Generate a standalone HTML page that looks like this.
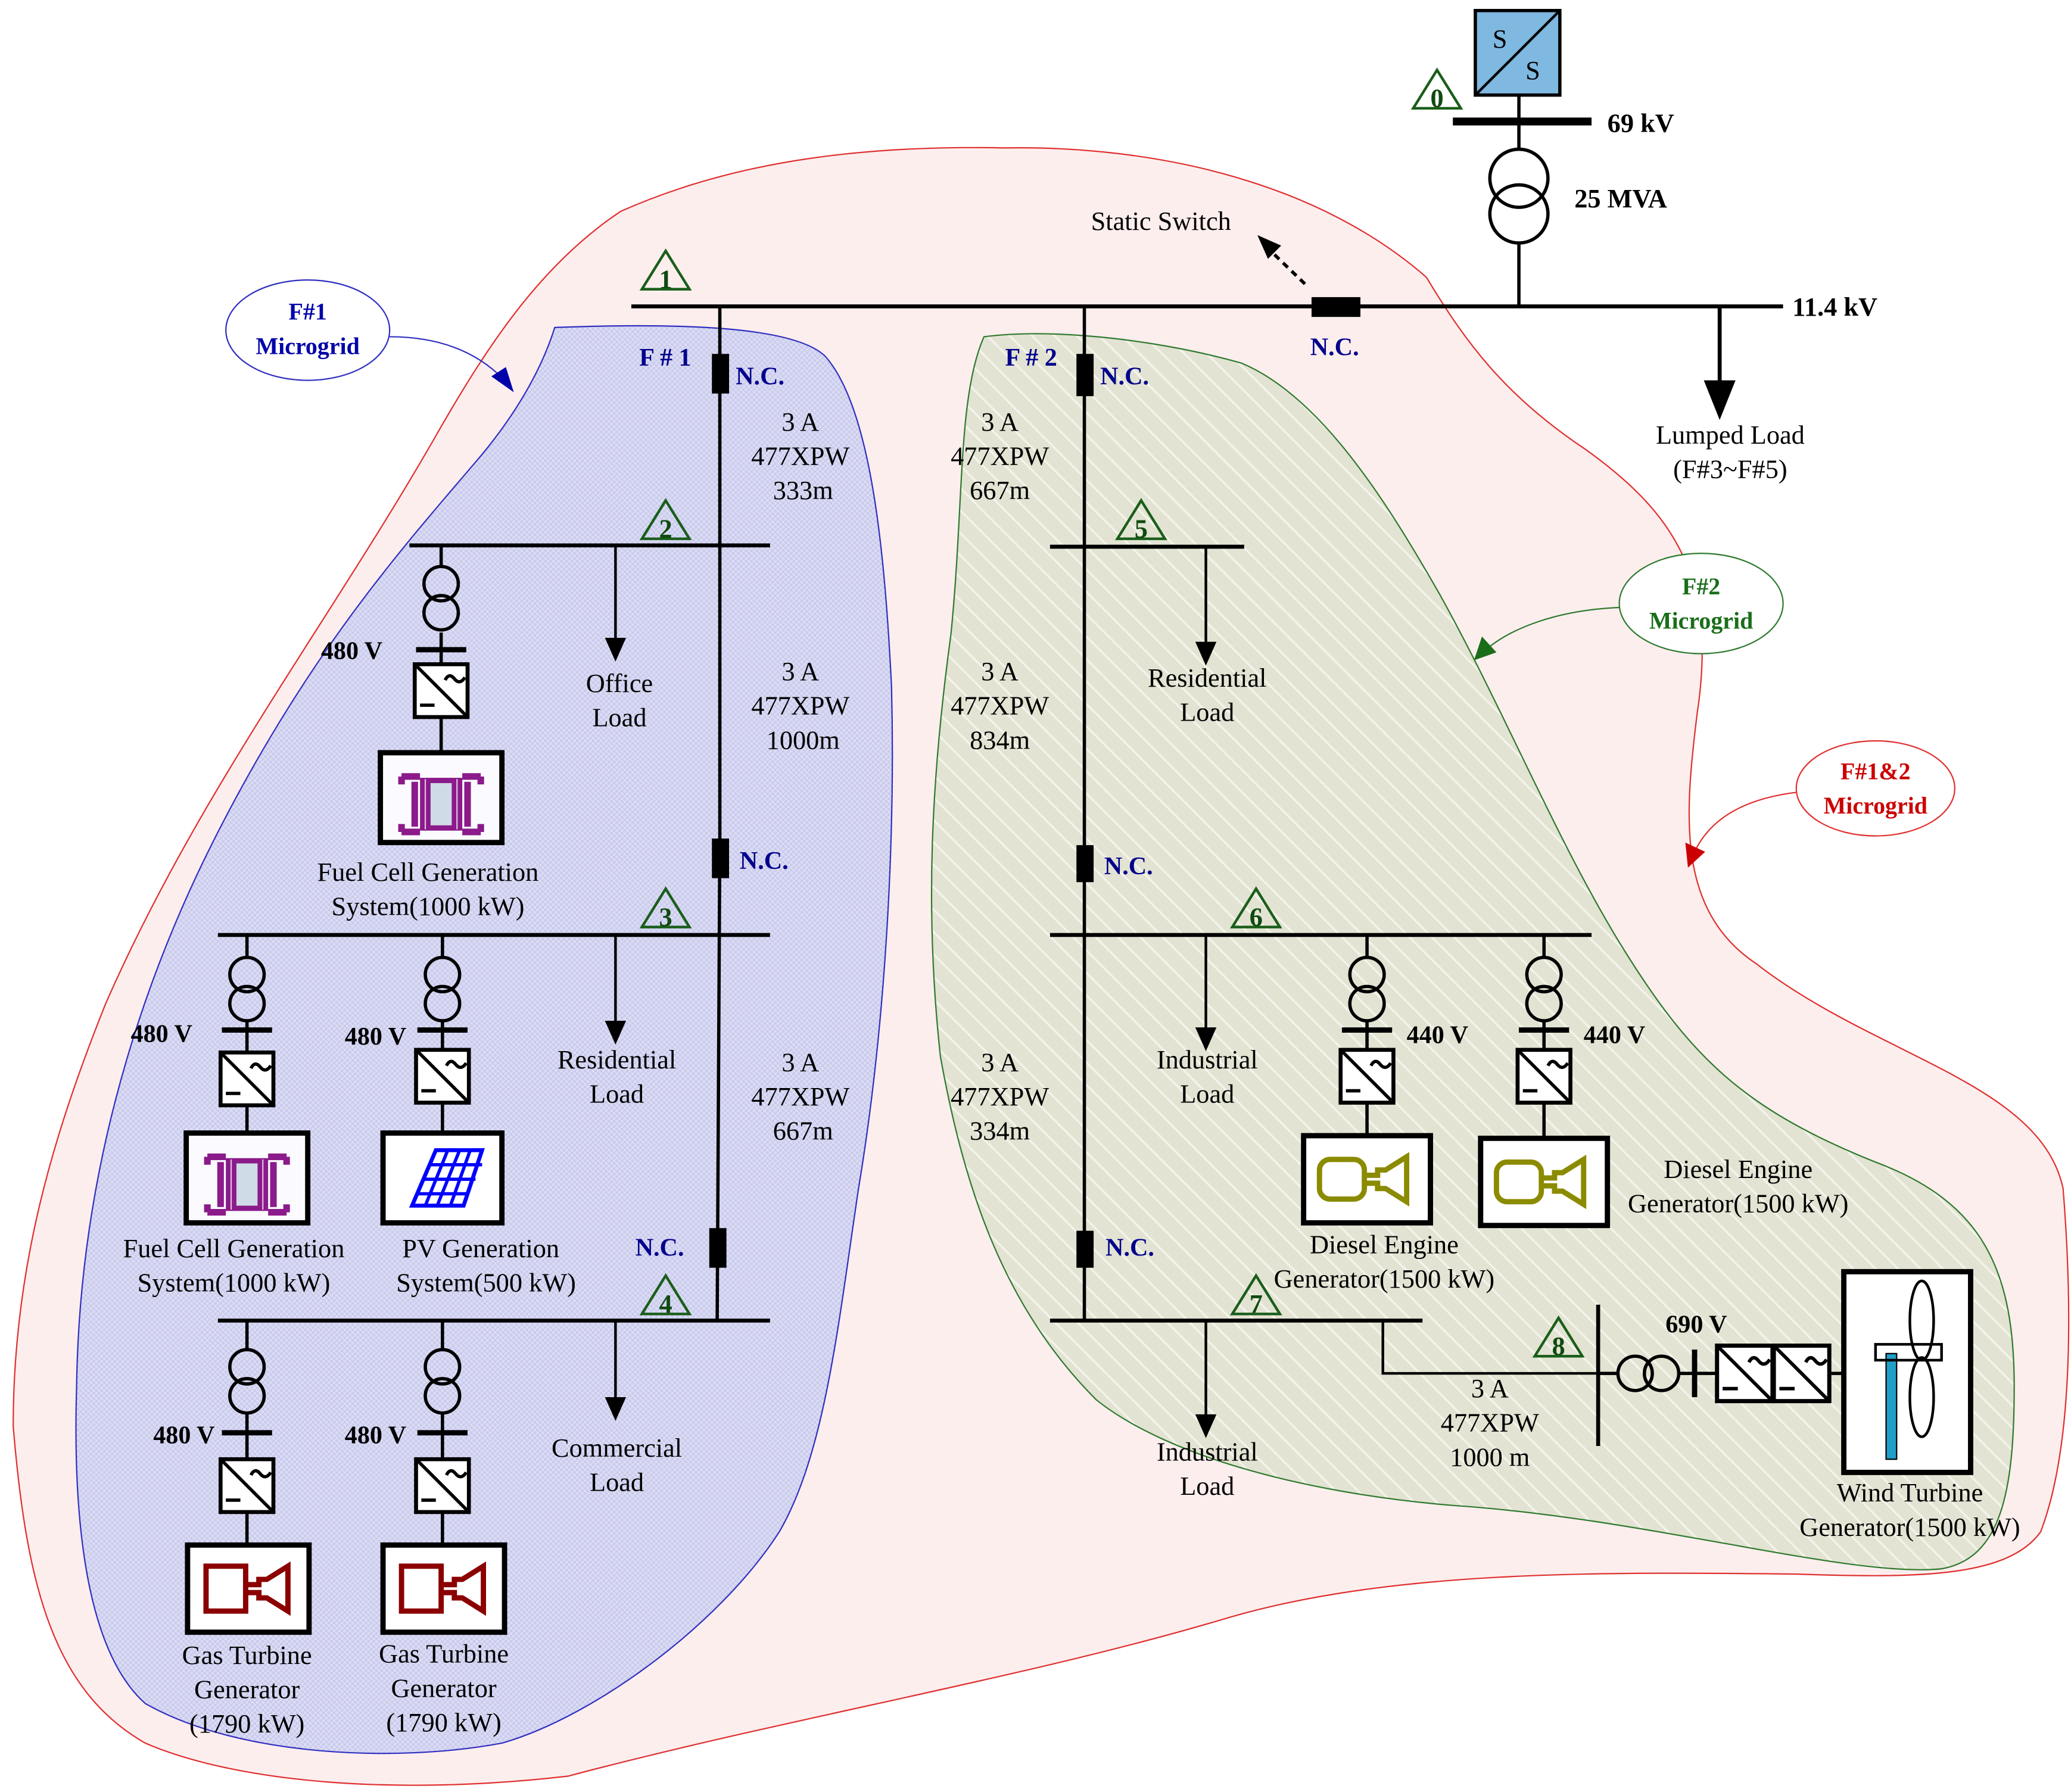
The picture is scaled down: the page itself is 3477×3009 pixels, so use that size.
<!DOCTYPE html>
<html><head><meta charset="utf-8"><style>
html,body{margin:0;padding:0;background:#fff;}
svg{display:block;}
text{font-family:"Liberation Serif",serif;}
</style></head><body>
<svg width="3477" height="3009" viewBox="0 0 1568 1357" preserveAspectRatio="none" xmlns="http://www.w3.org/2000/svg">
<defs>
<pattern id="bh" width="4" height="4" patternUnits="userSpaceOnUse"><rect width="4" height="4" fill="#dcdcf2"/><rect width="2" height="2" fill="#c9cbee"/><rect x="2" y="2" width="2" height="2" fill="#c9cbee"/></pattern>
<pattern id="gh" width="12" height="12" patternUnits="userSpaceOnUse" patternTransform="rotate(-45)"><rect width="12" height="12" fill="#e2e3d2"/><line x1="0" y1="0" x2="0" y2="12" stroke="#f4f4ec" stroke-width="3"/></pattern>
<g id="conv"><rect x="-20" y="0" width="40" height="40" fill="#fff" stroke="#000" stroke-width="3"/><line x1="-20" y1="0" x2="20" y2="40" stroke="#000" stroke-width="2.5"/><path d="M3 12 q3 -6 7 -1 q4 5 8 -1" fill="none" stroke="#000" stroke-width="2.5"/><line x1="-16" y1="31" x2="-5" y2="31" stroke="#000" stroke-width="2.5"/></g>
<g id="xf"><circle cx="0" cy="0" r="13" fill="none" stroke="#000" stroke-width="2.5"/><circle cx="0" cy="22" r="13" fill="none" stroke="#000" stroke-width="2.5"/></g>
<g id="gt"><rect x="-46" y="0" width="92" height="66" fill="#fff" stroke="#000" stroke-width="4"/><rect x="-32" y="16" width="30" height="34" fill="none" stroke="#8b0000" stroke-width="4"/><path d="M-2 30 h10 v-4 h6 l16 -10 v34 l-16 -10 h-6 v-4 h-10" fill="none" stroke="#8b0000" stroke-width="4"/></g>
<g id="de"><rect x="-48" y="0" width="96" height="66" fill="#fff" stroke="#000" stroke-width="4"/><rect x="-36" y="18" width="34" height="30" rx="8" fill="none" stroke="#8b8b00" stroke-width="4"/><path d="M-2 30 h10 v-4 h6 l16 -10 v34 l-16 -10 h-6 v-4 h-10" fill="none" stroke="#8b8b00" stroke-width="4"/></g>
<g id="fc"><rect x="-46" y="0" width="92" height="68" fill="#fbfbff" stroke="#000" stroke-width="4"/>
<rect x="-16" y="19" width="32" height="40" fill="#8b1a8b"/><rect x="-8" y="23" width="16" height="32" fill="#cfdbe6"/>
<path d="M-30 18 h14 M-30 60 h14 M30 18 h-14 M30 60 h-14 M-30 18 v6 M-30 60 v-6 M30 18 v6 M30 60 v-6 M-20 22 v34 M20 22 v34" fill="none" stroke="#8b1a8b" stroke-width="5"/>
<path d="M-12 20 v38 M12 20 v38" stroke="#e0c0e0" stroke-width="1"/></g>
<g id="arr"><polygon points="-8,0 8,0 0,18" fill="#000"/></g>
<g id="tri"><polygon points="0,-17 18,12 -18,12" fill="none" stroke="#1a5e1a" stroke-width="2"/></g>
</defs>

<path d="M470 160 C560 120 660 110 760 112 C880 110 1000 140 1080 210 C1110 260 1140 300 1200 340 C1270 390 1300 440 1285 540 C1275 620 1270 690 1330 730 C1420 800 1545 820 1562 900 C1570 1000 1568 1100 1545 1160 C1520 1195 1450 1195 1360 1192 C1200 1190 1050 1190 930 1225 C780 1270 600 1300 430 1345 C300 1360 180 1350 110 1320 C40 1280 20 1200 10 1080 C10 960 40 860 80 760 C150 600 250 470 330 330 C370 260 410 200 470 160 Z" fill="#fdeeee" stroke="#e03030" stroke-width="1"/>
<path d="M420 248 C500 245 600 245 625 270 C660 310 670 420 675 520 C678 640 670 780 650 900 C635 1000 625 1100 590 1160 C545 1230 450 1300 380 1320 C300 1335 180 1330 110 1290 C65 1250 55 1150 58 1050 C60 900 100 760 160 640 C230 500 300 420 360 350 C390 315 410 280 420 248 Z" fill="url(#bh)" stroke="#3030c0" stroke-width="1"/>
<path d="M745 255 C800 248 880 258 940 275 C1000 300 1050 380 1090 450 C1140 540 1180 640 1230 720 C1280 800 1320 840 1420 880 C1500 910 1525 960 1525 1050 C1525 1130 1515 1180 1470 1188 C1400 1195 1250 1150 1100 1140 C980 1130 880 1100 830 1060 C760 990 730 900 712 800 C700 690 705 590 720 480 C730 380 725 300 745 255 Z" fill="url(#gh)" stroke="#2f7a2f" stroke-width="1"/>

<ellipse cx="233" cy="250" rx="62" ry="38" fill="#fff" stroke="#3030c0" stroke-width="1"/>
<text x="233" y="242" font-size="18" font-weight="bold" fill="#0000aa" text-anchor="middle">F#1</text>
<text x="233" y="268" font-size="18" font-weight="bold" fill="#0000aa" text-anchor="middle">Microgrid</text>
<path d="M295 255 C330 255 360 265 382 288" fill="none" stroke="#3030c0" stroke-width="1"/>
<polygon points="372,285 389,297 383,278" fill="#0000aa"/>
<ellipse cx="1288" cy="457" rx="62" ry="38" fill="#fff" stroke="#2f7a2f" stroke-width="1"/>
<text x="1288" y="450" font-size="18" font-weight="bold" fill="#1a6e1a" text-anchor="middle">F#2</text>
<text x="1288" y="476" font-size="18" font-weight="bold" fill="#1a6e1a" text-anchor="middle">Microgrid</text>
<path d="M1226 460 C1180 462 1145 475 1125 492" fill="none" stroke="#2f7a2f" stroke-width="1"/>
<polygon points="1116,500 1122,482 1133,494" fill="#1a6e1a"/>
<ellipse cx="1420" cy="597" rx="60" ry="36" fill="#fff" stroke="#e03030" stroke-width="1"/>
<text x="1420" y="590" font-size="18" font-weight="bold" fill="#cc0000" text-anchor="middle">F#1&amp;2</text>
<text x="1420" y="616" font-size="18" font-weight="bold" fill="#cc0000" text-anchor="middle">Microgrid</text>
<path d="M1360 600 C1320 605 1295 620 1283 645" fill="none" stroke="#e03030" stroke-width="1"/>
<polygon points="1278,657 1276,638 1291,645" fill="#cc0000"/>

<g stroke="#000" fill="none">
<rect x="1117" y="8" width="64" height="64" fill="#7fb8e0" stroke-width="2.5"/>
<line x1="1117" y1="72" x2="1181" y2="8" stroke-width="2"/>
<line x1="1100" y1="92" x2="1205" y2="92" stroke-width="6"/>
<line x1="1150" y1="72" x2="1150" y2="113" stroke-width="2.5"/>
<circle cx="1150" cy="135" r="22" stroke-width="2.5"/><circle cx="1150" cy="162" r="22" stroke-width="2.5"/>
<line x1="1150" y1="184" x2="1150" y2="232" stroke-width="2.5"/>
<line x1="478" y1="232" x2="1350" y2="232" stroke-width="3"/>
<line x1="1302" y1="232" x2="1302" y2="290" stroke-width="3"/>
<line x1="545" y1="232" x2="545" y2="635" stroke-width="2.5"/>
<line x1="545" y1="635" x2="543" y2="1000" stroke-width="2.5"/>
<line x1="821" y1="232" x2="821" y2="1000" stroke-width="2.5"/>
<line x1="310" y1="413" x2="583" y2="413" stroke-width="3"/>
<line x1="165" y1="708" x2="583" y2="708" stroke-width="3"/>
<line x1="165" y1="1000" x2="583" y2="1000" stroke-width="3"/>
<line x1="795" y1="414" x2="942" y2="414" stroke-width="3"/>
<line x1="795" y1="708" x2="1205" y2="708" stroke-width="3"/>
<line x1="795" y1="1000" x2="1077" y2="1000" stroke-width="3"/>
<line x1="1210" y1="988" x2="1210" y2="1095" stroke-width="3"/>
<polyline points="1047,1000 1047,1040 1210,1040" stroke-width="2"/>
<line x1="466" y1="413" x2="466" y2="485" stroke-width="2"/>
<line x1="466" y1="708" x2="466" y2="775" stroke-width="2"/>
<line x1="466" y1="1000" x2="466" y2="1060" stroke-width="2"/>
<line x1="913" y1="414" x2="913" y2="488" stroke-width="2"/>
<line x1="913" y1="708" x2="913" y2="780" stroke-width="2"/>
<line x1="913" y1="1000" x2="913" y2="1073" stroke-width="2"/>
<line x1="334" y1="413" x2="334" y2="429" stroke-width="2.5"/><line x1="334" y1="479" x2="334" y2="570" stroke-width="2.5"/><line x1="315" y1="492" x2="353" y2="492" stroke-width="4"/>
<line x1="187" y1="708" x2="187" y2="725" stroke-width="2.5"/><line x1="187" y1="773" x2="187" y2="858" stroke-width="2.5"/><line x1="168" y1="780" x2="206" y2="780" stroke-width="4"/>
<line x1="335" y1="708" x2="335" y2="725" stroke-width="2.5"/><line x1="335" y1="773" x2="335" y2="858" stroke-width="2.5"/><line x1="316" y1="780" x2="354" y2="780" stroke-width="4"/>
<line x1="187" y1="1000" x2="187" y2="1022" stroke-width="2.5"/><line x1="187" y1="1070" x2="187" y2="1170" stroke-width="2.5"/><line x1="168" y1="1085" x2="206" y2="1085" stroke-width="4"/>
<line x1="335" y1="1000" x2="335" y2="1022" stroke-width="2.5"/><line x1="335" y1="1070" x2="335" y2="1170" stroke-width="2.5"/><line x1="316" y1="1085" x2="354" y2="1085" stroke-width="4"/>
<line x1="1035" y1="708" x2="1035" y2="725" stroke-width="2.5"/><line x1="1035" y1="773" x2="1035" y2="860" stroke-width="2.5"/><line x1="1016" y1="780" x2="1054" y2="780" stroke-width="4"/>
<line x1="1169" y1="708" x2="1169" y2="725" stroke-width="2.5"/><line x1="1169" y1="773" x2="1169" y2="862" stroke-width="2.5"/><line x1="1150" y1="780" x2="1188" y2="780" stroke-width="4"/>
<line x1="1210" y1="1040" x2="1225" y2="1040" stroke-width="2.5"/>
<circle cx="1238" cy="1040" r="13" stroke-width="2.5"/><circle cx="1258" cy="1040" r="13" stroke-width="2.5"/>
<line x1="1271" y1="1040" x2="1300" y2="1040" stroke-width="2.5"/>
<line x1="1283" y1="1022" x2="1283" y2="1058" stroke-width="4"/>
<line x1="1385" y1="1040" x2="1396" y2="1040" stroke-width="2.5"/>
</g>
<line x1="988" y1="215" x2="962" y2="190" stroke="#000" stroke-width="2.5" stroke-dasharray="5,4"/>
<polygon points="952,178 970,186 960,196" fill="#000"/>
<g fill="#000">
<rect x="539" y="268" width="13" height="30"/><rect x="539" y="635" width="13" height="30"/><rect x="537" y="930" width="13" height="30"/>
<rect x="815" y="268" width="13" height="32"/><rect x="815" y="640" width="13" height="28"/><rect x="815" y="932" width="13" height="28"/>
<rect x="993" y="225" width="37" height="15"/>
<polygon points="1290,288 1314,288 1302,318"/>
</g>
<use href="#arr" x="466" y="483"/><use href="#arr" x="466" y="773"/><use href="#arr" x="466" y="1058"/>
<use href="#arr" x="913" y="486"/><use href="#arr" x="913" y="778"/><use href="#arr" x="913" y="1071"/>
<use href="#xf" x="334" y="442"/><use href="#xf" x="187" y="738"/><use href="#xf" x="335" y="738"/>
<use href="#xf" x="187" y="1035"/><use href="#xf" x="335" y="1035"/><use href="#xf" x="1035" y="738"/><use href="#xf" x="1169" y="738"/>
<use href="#conv" x="334" y="503"/><use href="#conv" x="187" y="797"/><use href="#conv" x="335" y="795"/>
<use href="#conv" x="187" y="1105"/><use href="#conv" x="335" y="1105"/><use href="#conv" x="1035" y="795"/><use href="#conv" x="1169" y="795"/>
<g transform="translate(1321,1019) scale(1.05)"><use href="#conv" x="0" y="0"/></g>
<g transform="translate(1364,1019) scale(1.05)"><use href="#conv" x="0" y="0"/></g>
<use href="#fc" x="334" y="570"/><use href="#fc" x="187" y="858"/>
<g><rect x="290" y="858" width="90" height="68" fill="#fff" stroke="#000" stroke-width="4"/>
<polygon points="312,913 330,871 365,871 351,913" fill="none" stroke="#0000ff" stroke-width="3"/>
<path d="M316 904 h39 M321 893 h39 M326 882 h39 M322 913 l17 -42 M331 913 l17 -42 M341 913 l15 -42" fill="none" stroke="#0000ff" stroke-width="2.5"/></g>
<use href="#gt" x="188" y="1170"/><use href="#gt" x="336" y="1170"/>
<use href="#de" x="1035" y="860"/><use href="#de" x="1169" y="862"/>
<g><rect x="1396" y="963" width="96" height="152" fill="#fff" stroke="#000" stroke-width="4"/>
<rect x="1428" y="1025" width="8" height="80" fill="#20a0c8" stroke="#000" stroke-width="1"/>
<rect x="1420" y="1018" width="50" height="12" fill="none" stroke="#000" stroke-width="2"/>
<ellipse cx="1455" cy="1000" rx="9" ry="30" fill="none" stroke="#000" stroke-width="2"/>
<ellipse cx="1455" cy="1058" rx="9" ry="30" fill="none" stroke="#000" stroke-width="2"/></g>
<use href="#tri" x="1088" y="70"/><use href="#tri" x="504" y="207"/><use href="#tri" x="504" y="396"/>
<use href="#tri" x="504" y="690"/><use href="#tri" x="504" y="983"/><use href="#tri" x="864" y="396"/>
<use href="#tri" x="951" y="690"/><use href="#tri" x="951" y="983"/><use href="#tri" x="1180" y="1015"/>
<g font-size="20" font-weight="bold" fill="#0f4a0f" text-anchor="middle">
<text x="1088" y="81">0</text><text x="504" y="218">1</text><text x="504" y="407">2</text><text x="504" y="701">3</text><text x="504" y="994">4</text><text x="864" y="407">5</text><text x="951" y="701">6</text><text x="951" y="994">7</text><text x="1180" y="1026">8</text>
</g>
<g font-size="20" fill="#000">
<text x="1130" y="36">S</text><text x="1155" y="60">S</text>
<text x="1217" y="100" font-weight="bold">69 kV</text>
<text x="1192" y="157" font-weight="bold">25 MVA</text>
<text x="1357" y="239" font-weight="bold">11.4 kV</text>
<text x="826" y="174">Static Switch</text>
<text x="1310" y="336" text-anchor="middle">Lumped Load</text><text x="1310" y="362" text-anchor="middle">(F#3~F#5)</text>
<text x="606" y="326" text-anchor="middle">3 A</text><text x="606" y="352" text-anchor="middle">477XPW</text><text x="608" y="378" text-anchor="middle">333m</text>
<text x="757" y="326" text-anchor="middle">3 A</text><text x="757" y="352" text-anchor="middle">477XPW</text><text x="757" y="378" text-anchor="middle">667m</text>
<text x="606" y="515" text-anchor="middle">3 A</text><text x="606" y="541" text-anchor="middle">477XPW</text><text x="608" y="567" text-anchor="middle">1000m</text>
<text x="757" y="515" text-anchor="middle">3 A</text><text x="757" y="541" text-anchor="middle">477XPW</text><text x="757" y="567" text-anchor="middle">834m</text>
<text x="606" y="811" text-anchor="middle">3 A</text><text x="606" y="837" text-anchor="middle">477XPW</text><text x="608" y="863" text-anchor="middle">667m</text>
<text x="757" y="811" text-anchor="middle">3 A</text><text x="757" y="837" text-anchor="middle">477XPW</text><text x="757" y="863" text-anchor="middle">334m</text>
<text x="1128" y="1058" text-anchor="middle">3 A</text><text x="1128" y="1084" text-anchor="middle">477XPW</text><text x="1128" y="1110" text-anchor="middle">1000 m</text>
<text x="469" y="524" text-anchor="middle">Office</text><text x="469" y="550" text-anchor="middle">Load</text>
<text x="467" y="809" text-anchor="middle">Residential</text><text x="467" y="835" text-anchor="middle">Load</text>
<text x="467" y="1103" text-anchor="middle">Commercial</text><text x="467" y="1129" text-anchor="middle">Load</text>
<text x="914" y="520" text-anchor="middle">Residential</text><text x="914" y="546" text-anchor="middle">Load</text>
<text x="914" y="809" text-anchor="middle">Industrial</text><text x="914" y="835" text-anchor="middle">Load</text>
<text x="914" y="1106" text-anchor="middle">Industrial</text><text x="914" y="1132" text-anchor="middle">Load</text>
<text x="324" y="667" text-anchor="middle">Fuel Cell Generation</text><text x="324" y="693" text-anchor="middle">System(1000 kW)</text>
<text x="177" y="952" text-anchor="middle">Fuel Cell Generation</text><text x="177" y="978" text-anchor="middle">System(1000 kW)</text>
<text x="364" y="952" text-anchor="middle">PV Generation</text><text x="368" y="978" text-anchor="middle">System(500 kW)</text>
<text x="187" y="1260" text-anchor="middle">Gas Turbine</text><text x="187" y="1286" text-anchor="middle">Generator</text><text x="187" y="1312" text-anchor="middle">(1790 kW)</text>
<text x="336" y="1259" text-anchor="middle">Gas Turbine</text><text x="336" y="1285" text-anchor="middle">Generator</text><text x="336" y="1311" text-anchor="middle">(1790 kW)</text>
<text x="1048" y="949" text-anchor="middle">Diesel Engine</text><text x="1048" y="975" text-anchor="middle">Generator(1500 kW)</text>
<text x="1316" y="892" text-anchor="middle">Diesel Engine</text><text x="1316" y="918" text-anchor="middle">Generator(1500 kW)</text>
<text x="1446" y="1137" text-anchor="middle">Wind Turbine</text><text x="1446" y="1163" text-anchor="middle">Generator(1500 kW)</text>
</g>
<g font-size="19" font-weight="bold" fill="#000">
<text x="243" y="499">480 V</text><text x="99" y="789">480 V</text><text x="261" y="791">480 V</text>
<text x="116" y="1093">480 V</text><text x="261" y="1093">480 V</text>
<text x="1065" y="790">440 V</text><text x="1199" y="790">440 V</text><text x="1261" y="1009">690 V</text>
</g>
<g font-size="19" font-weight="bold" fill="#00008b">
<text x="484" y="277">F # 1</text><text x="557" y="291">N.C.</text>
<text x="761" y="277">F # 2</text><text x="833" y="291">N.C.</text>
<text x="560" y="658">N.C.</text><text x="836" y="662">N.C.</text>
<text x="481" y="951">N.C.</text><text x="837" y="951">N.C.</text>
<text x="992" y="269">N.C.</text>
</g>
</svg>
</body></html>
